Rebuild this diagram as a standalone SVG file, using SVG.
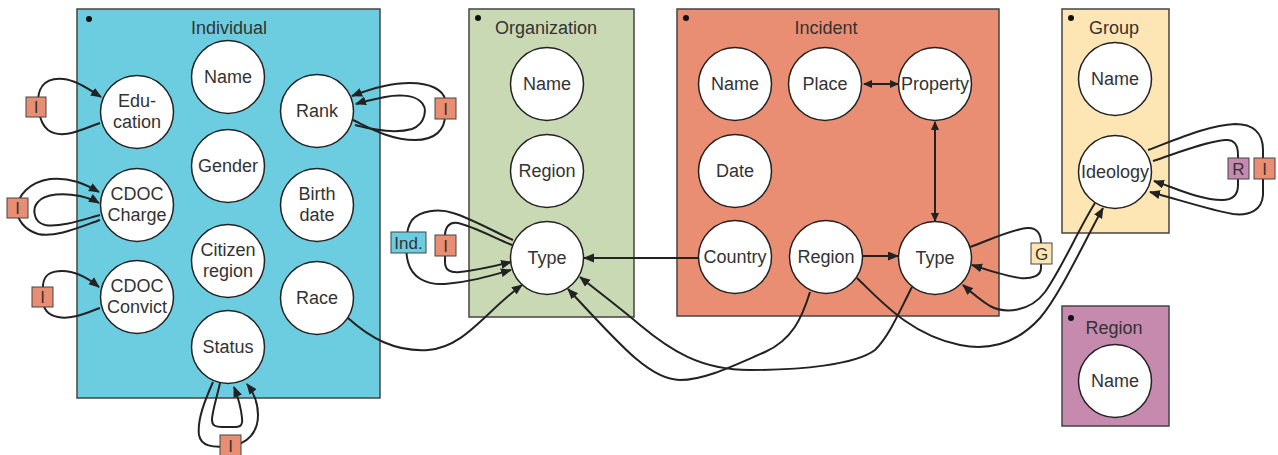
<svg xmlns="http://www.w3.org/2000/svg" width="1278" height="455" viewBox="0 0 1278 455">
<style>
text{font-family:"Liberation Sans",Arial,sans-serif;fill:#333;text-anchor:middle}
.t{font-size:18px}
.n{font-size:18px}
.lb{font-size:17px}
.box{stroke:#444;stroke-width:1.5}
.c{fill:#fff;stroke:#222;stroke-width:1.5}
.dot{fill:#111}
.e{fill:none;stroke:#222;stroke-width:2}
.a{marker-end:url(#ah)}
.aa{marker-end:url(#ah2);marker-start:url(#ah2)}
.lab{stroke:#444;stroke-width:1}
.ind{fill:#6dcde0}.org{fill:#c8d9b3}.inc{fill:#e98e73}.grp{fill:#fde6b4}.reg{fill:#c58aae}
</style>
<defs>
<marker id="ah" markerUnits="userSpaceOnUse" markerWidth="11" markerHeight="10" refX="10" refY="4.5" orient="auto"><path d="M0,0 L11,4.5 L0,9 z" fill="#222"/></marker>
<marker id="ah2" markerUnits="userSpaceOnUse" markerWidth="9" markerHeight="8" refX="8" refY="4" orient="auto-start-reverse"><path d="M0,0 L9,4 L0,8 z" fill="#222"/></marker>
</defs>
<rect width="1278" height="455" fill="#fff"/>

<g id="individual">
<rect class="box ind" x="77" y="9" width="303" height="389"/>
<circle class="dot" cx="89" cy="19" r="3"/>
<text class="t" x="229" y="34">Individual</text>
</g>
<g id="organization">
<rect class="box org" x="469" y="9" width="165" height="308"/>
<circle class="dot" cx="478" cy="18" r="3"/>
<text class="t" x="546" y="34">Organization</text>
</g>
<g id="incident">
<rect class="box inc" x="677" y="9" width="322" height="307"/>
<circle class="dot" cx="686" cy="18" r="3"/>
<text class="t" x="826" y="34">Incident</text>
</g>
<g id="group">
<rect class="box grp" x="1062" y="9" width="107" height="224"/>
<circle class="dot" cx="1071" cy="18" r="3"/>
<text class="t" x="1114" y="34">Group</text>
</g>
<g id="region">
<rect class="box reg" x="1062" y="306" width="107" height="120"/>
<circle class="dot" cx="1071" cy="318" r="3"/>
<text class="t" x="1114" y="334">Region</text>
</g>

<g id="connectors">
<path class="e a" d="M100,123 C80,130 62,140 48,130 C38,122 36,100 40,90 C45,78 60,76 75,82 C85,86 93,92 101,97"/>
<path class="e a" d="M100,220 C80,227 55,238 38,234 C25,230 17,220 17,210 C17,195 30,182 50,179 C70,177 85,184 99,192"/>
<path class="e a" d="M100,215 C85,219 60,228 45,225 C33,222 32,208 38,202 C45,193 65,193 80,196 C88,198 94,200 99,203"/>
<path class="e a" d="M100,308 C88,312 72,320 58,317 C48,315 43,310 43,300 L43,285 C44,275 50,271 62,271 C75,271 88,278 99,287"/>
<path class="e a" d="M353,120 C370,128 390,140 415,140 C435,140 445,130 445,115 L445,100 C444,90 430,83 410,83 C390,83 370,89 352,96"/>
<path class="e a" d="M355,125 C370,129 395,134 412,129 C425,124 429,108 420,101 C412,94 395,95 385,97 C375,99 365,101 356,104"/>
<path class="e a" d="M213,382 C205,400 197,420 199,435 C201,446 212,448 230,446 C248,444 258,432 258,415 C258,405 254,393 247,384"/>
<path class="e a" d="M220,383 C217,397 212,412 212,420 C212,426 216,427 222,427 L236,427 C241,427 243,424 242,418 C241,408 238,397 234,387"/>
<path class="e a" d="M513,240 C495,232 470,218 453,213 C438,208 420,211 412,220 C405,230 405,250 408,262 C412,277 425,285 445,284 C470,282 490,276 511,270"/>
<path class="e a" d="M512,245 C495,238 472,226 458,223 C449,221 445,228 445,236 L445,262 C445,270 450,273 460,272 C478,270 495,266 511,262"/>
<path class="e a" d="M348,318 C370,338 395,352 428,350 C465,347 485,312 522,285"/>
<path class="e a" d="M698,258 L584,258"/>
<path class="e a" d="M810,292 C802,318 792,340 765,352 C735,365 705,380 680,380 C650,380 620,345 568,289"/>
<path class="e a" d="M912,287 C900,310 890,335 875,350 C855,365 800,370 750,370 C700,370 670,350 640,325 C620,308 600,293 580,277"/>
<path class="e a" d="M857,278 C880,300 910,335 960,345 C995,352 1020,340 1040,318 C1060,295 1085,240 1103,208"/>
<path class="e a" d="M1095,203 C1078,230 1062,268 1045,292 C1030,312 1005,314 990,306 C980,300 972,293 963,285"/>
<path class="e a" d="M970,247 C990,240 1010,230 1027,228 C1036,227 1041,233 1041,243 L1041,268 C1041,276 1032,279 1020,278 C1005,276 988,270 972,265"/>
<path class="e a" d="M1148,150 C1180,138 1210,125 1235,124 C1252,124 1263,132 1263,150 L1263,195 C1262,210 1250,216 1233,214 C1210,210 1180,200 1150,192"/>
<path class="e a" d="M1153,161 C1180,152 1205,142 1225,140 C1235,139 1238,146 1238,155 L1238,185 C1238,196 1232,200 1222,200 C1200,200 1175,188 1154,181"/>
<path class="e a" d="M863,256 L898,256"/>
<path class="e aa" d="M864,84 L898,84"/>
<path class="e aa" d="M935,122 L935,221"/>
</g>

<g id="labels">
<rect class="lab inc" x="26" y="97" width="20" height="20"/><text class="lb" x="36" y="113">I</text>
<rect class="lab inc" x="7" y="198" width="21" height="20"/><text class="lb" x="17.5" y="214">I</text>
<rect class="lab inc" x="32" y="287" width="21" height="20"/><text class="lb" x="42.5" y="303">I</text>
<rect class="lab inc" x="435" y="98" width="21" height="21"/><text class="lb" x="445.5" y="114.5">I</text>
<rect class="lab inc" x="220" y="435" width="21" height="22"/><text class="lb" x="230.5" y="452">I</text>
<rect class="lab ind" x="391" y="232" width="35" height="21"/><text class="lb" x="408.5" y="248.5">Ind.</text>
<rect class="lab inc" x="435" y="235" width="21" height="21"/><text class="lb" x="445.5" y="251.5">I</text>
<rect class="lab grp" x="1031" y="243" width="21" height="21"/><text class="lb" x="1041.5" y="259.5">G</text>
<rect class="lab reg" x="1228" y="158" width="21" height="21"/><text class="lb" x="1238.5" y="174.5">R</text>
<rect class="lab inc" x="1254" y="158" width="21" height="21"/><text class="lb" x="1264.5" y="174.5">I</text>
</g>

<g id="ind-name"><circle class="c" cx="228" cy="77" r="36.5"/><text class="n" x="228" y="83">Name</text></g>
<g id="ind-education"><circle class="c" cx="137" cy="112" r="36.5"/><text class="n" x="137" y="107">Edu-</text><text class="n" x="137" y="128">cation</text></g>
<g id="ind-rank"><circle class="c" cx="317" cy="111" r="36.5"/><text class="n" x="317" y="117">Rank</text></g>
<g id="ind-gender"><circle class="c" cx="228" cy="166" r="36.5"/><text class="n" x="228" y="172">Gender</text></g>
<g id="ind-charge"><circle class="c" cx="137" cy="205" r="36.5"/><text class="n" x="137" y="200">CDOC</text><text class="n" x="137" y="221">Charge</text></g>
<g id="ind-birth"><circle class="c" cx="317" cy="205" r="36.5"/><text class="n" x="317" y="200">Birth</text><text class="n" x="317" y="221">date</text></g>
<g id="ind-citizen"><circle class="c" cx="228" cy="261" r="36.5"/><text class="n" x="228" y="256">Citizen</text><text class="n" x="228" y="277">region</text></g>
<g id="ind-convict"><circle class="c" cx="137" cy="297" r="36.5"/><text class="n" x="137" y="292">CDOC</text><text class="n" x="137" y="313">Convict</text></g>
<g id="ind-race"><circle class="c" cx="317" cy="298" r="36.5"/><text class="n" x="317" y="304">Race</text></g>
<g id="ind-status"><circle class="c" cx="228" cy="347" r="36.5"/><text class="n" x="228" y="353">Status</text></g>

<g id="org-name"><circle class="c" cx="547" cy="84" r="36.5"/><text class="n" x="547" y="90">Name</text></g>
<g id="org-region"><circle class="c" cx="547" cy="171" r="36.5"/><text class="n" x="547" y="177">Region</text></g>
<g id="org-type"><circle class="c" cx="547" cy="258" r="36.5"/><text class="n" x="547" y="264">Type</text></g>

<g id="inc-name"><circle class="c" cx="735" cy="84" r="36.5"/><text class="n" x="735" y="90">Name</text></g>
<g id="inc-place"><circle class="c" cx="825" cy="84" r="36.5"/><text class="n" x="825" y="90">Place</text></g>
<g id="inc-property"><circle class="c" cx="935" cy="84" r="36.5"/><text class="n" x="935" y="90">Property</text></g>
<g id="inc-date"><circle class="c" cx="735" cy="171" r="36.5"/><text class="n" x="735" y="177">Date</text></g>
<g id="inc-country"><circle class="c" cx="735" cy="257" r="36.5"/><text class="n" x="735" y="263">Country</text></g>
<g id="inc-region"><circle class="c" cx="826" cy="257" r="36.5"/><text class="n" x="826" y="263">Region</text></g>
<g id="inc-type"><circle class="c" cx="935" cy="258" r="36.5"/><text class="n" x="935" y="264">Type</text></g>

<g id="grp-name"><circle class="c" cx="1115" cy="79" r="36.5"/><text class="n" x="1115" y="85">Name</text></g>
<g id="grp-ideology"><circle class="c" cx="1115" cy="172" r="36.5"/><text class="n" x="1115" y="178">Ideology</text></g>

<g id="reg-name"><circle class="c" cx="1115" cy="381" r="36.5"/><text class="n" x="1115" y="387">Name</text></g>
</svg>
